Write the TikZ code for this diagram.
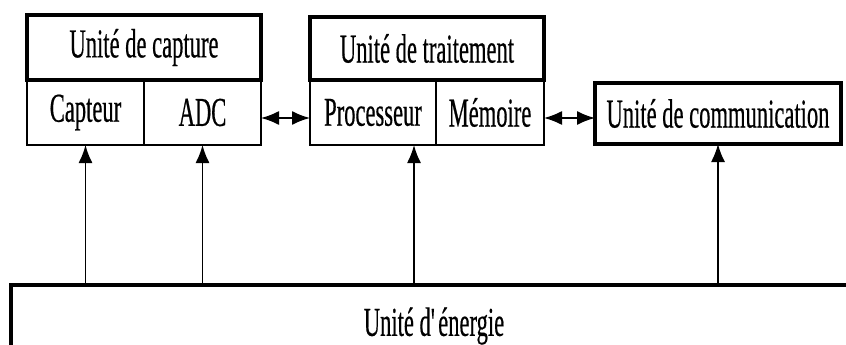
\documentclass[tikz,border=0pt]{standalone}
\usepackage{fontspec}
\setmainfont[FakeStretch=0.55,FakeBold=0.4]{Liberation Serif}
\usetikzlibrary{positioning,arrows.meta}
\tikzset{
	unitbox/.style={draw, line width=3.5pt, inner sep=0pt, outer sep=0pt,
		font=\fontsize{41}{43}\selectfont},
	cellbox/.style={draw, line width=1.6pt, inner sep=0pt, outer sep=0pt,
		minimum height=65pt, font=\fontsize{41}{43}\selectfont},
	link/.style={line width=1.6pt, -{Latex[length=18pt,width=14pt]}},
	duplex/.style={line width=1.6pt, {Latex[length=18pt,width=14pt]}-{Latex[length=18pt,width=14pt]}}
}
\begin{document}
\begin{tikzpicture}[x=1pt,y=-1pt]
		\useasboundingbox (0,0) rectangle (846,345);
		\clip (0,0) rectangle (846,345);

		% Define nodes
		\node[unitbox, minimum width=234pt, minimum height=65pt] (capture) at (144,47.5) {Unité de capture};
		\node[cellbox, minimum width=117pt, below right=0pt and 0pt of capture.south west] (capteur) {Capteur};
		\node[cellbox, minimum width=117pt, right=0pt of capteur] (adc) {ADC};
		\node[unitbox, minimum width=234pt, minimum height=63pt] (traitement) at (427,48.5) {Unité de traitement};
		\node[cellbox, minimum width=126pt, below right=0pt and 0pt of traitement.south west] (processeur) {Processeur};
		\node[cellbox, minimum width=108pt, right=0pt of processeur] (memoire) {Mémoire};
		\node[unitbox, minimum width=246pt, minimum height=61pt] (comm) at (718,113.5) {Unité de communication};
		\node[unitbox, minimum width=846pt, minimum height=82pt, anchor=north west] (energie) at (11,285) {Unité d\textquotesingle énergie};

		% Connect the nodes
		\draw[duplex] ([yshift=-5.5pt]adc.east) -- ([yshift=-5.5pt]adc.east -| processeur.west);
		\draw[duplex] ([yshift=-5.5pt]memoire.east) -- ([yshift=-5.5pt]memoire.east -| comm.west);
		\draw[link] (capteur |- energie.north) -- (capteur.south);
		\draw[link] (adc |- energie.north) -- (adc.south);
		\draw[link] ([xshift=-22pt]processeur.south east |- energie.north) -- ([xshift=-22pt]processeur.south east);
		\draw[link] (comm |- energie.north) -- (comm.south);
	\end{tikzpicture}
\end{document}
